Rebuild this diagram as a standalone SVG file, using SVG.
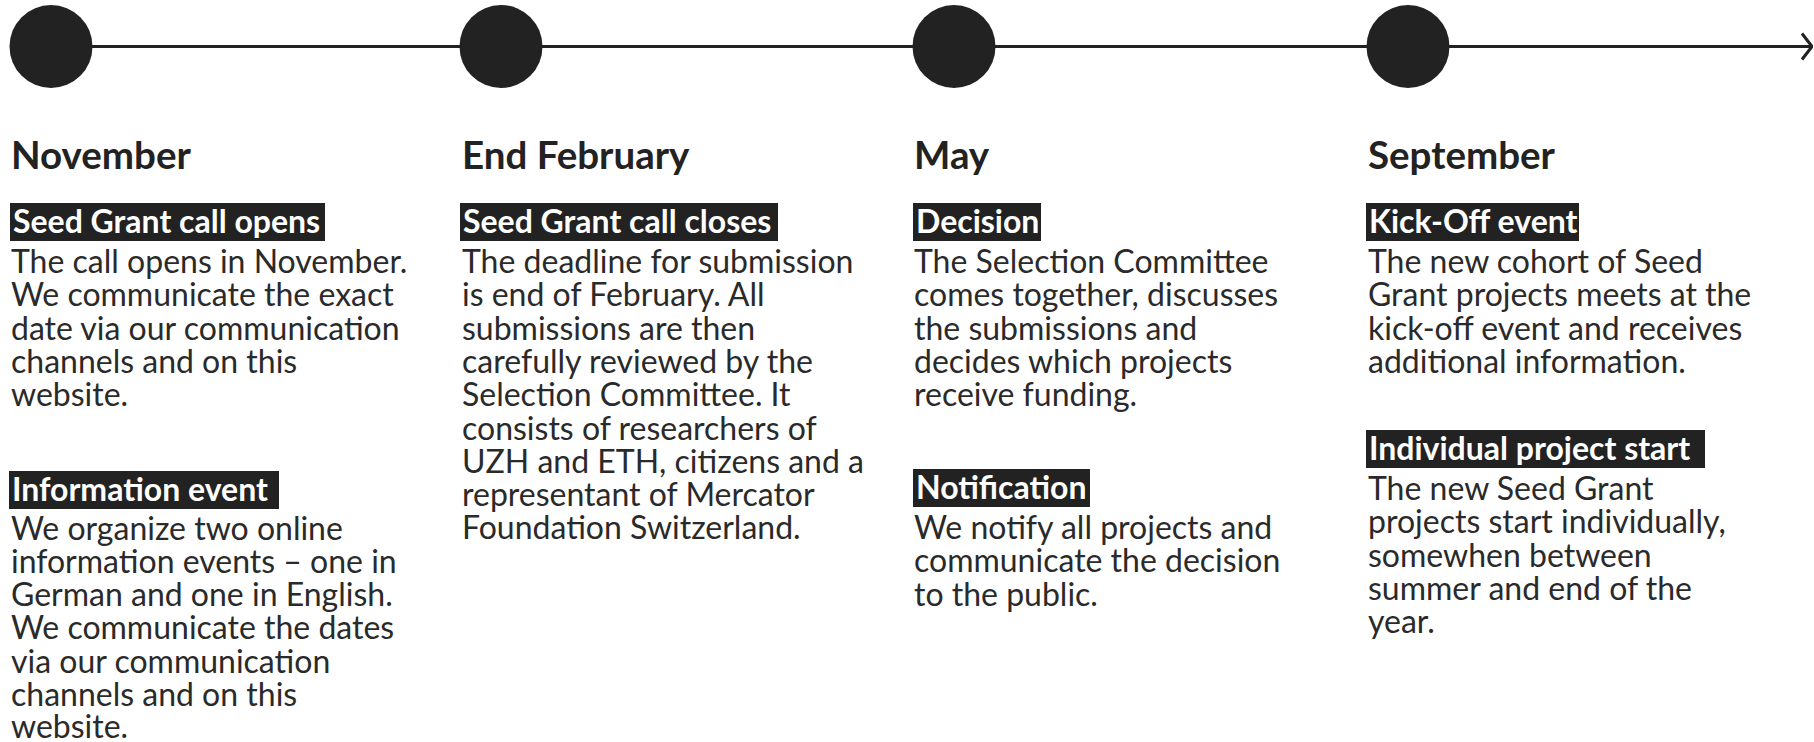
<svg xmlns="http://www.w3.org/2000/svg" width="1814" height="742" viewBox="0 0 1814 742">
<style>
.dot{fill:#222222}
.line{stroke:#222222;stroke-width:3;fill:none}
.month{font-family:Lato,"Liberation Sans",sans-serif;font-weight:700;font-size:38.5px;fill:#222222}
.tag{fill:#222222}
.tagt{font-family:Lato,"Liberation Sans",sans-serif;font-weight:700;font-size:32px;fill:#ffffff}
.body{font-family:Lato,"Liberation Sans",sans-serif;font-size:32px;fill:#2a2a2a}
</style>
<defs>
<marker id="arr" viewBox="0 0 12 30" refX="11" refY="15" markerWidth="12" markerHeight="30" markerUnits="userSpaceOnUse" orient="auto">
<path d="M1,2 L11,15 L1,28" fill="none" stroke="#222222" stroke-width="3"/>
</marker>
</defs>
<g id="connectors">
<line class="line" x1="51" y1="46.5" x2="1812" y2="46.5" marker-end="url(#arr)"/>
</g>
<g id="november">
<circle class="dot" cx="51" cy="46.5" r="41.5"/>
<text class="month" x="11" y="169">November</text>
<rect class="tag" x="10" y="203" width="315" height="38"/>
<text class="tagt" x="13" y="233">Seed Grant call opens</text>
<text class="body"><tspan x="11" y="273">The call opens in November.</tspan><tspan x="11" y="306.3">We communicate the exact</tspan><tspan x="11" y="339.6">date via our communication</tspan><tspan x="11" y="372.9">channels and on this</tspan><tspan x="11" y="406.2">website.</tspan></text>
<rect class="tag" x="9" y="471" width="270" height="38"/>
<text class="tagt" x="12" y="501">Information event</text>
<text class="body"><tspan x="11" y="539.5">We organize two online</tspan><tspan x="11" y="572.8">information events – one in</tspan><tspan x="11" y="606.1">German and one in English.</tspan><tspan x="11" y="639.4">We communicate the dates</tspan><tspan x="11" y="672.7">via our communication</tspan><tspan x="11" y="706">channels and on this</tspan><tspan x="11" y="737.5">website.</tspan></text>
</g>
<g id="february">
<circle class="dot" cx="501" cy="46.5" r="41.5"/>
<text class="month" x="462" y="169">End February</text>
<rect class="tag" x="460" y="203" width="318" height="38"/>
<text class="tagt" x="463" y="233">Seed Grant call closes</text>
<text class="body"><tspan x="462" y="273">The deadline for submission</tspan><tspan x="462" y="306.3">is end of February. All</tspan><tspan x="462" y="339.6">submissions are then</tspan><tspan x="462" y="372.9">carefully reviewed by the</tspan><tspan x="462" y="406.2">Selection Committee. It</tspan><tspan x="462" y="439.5">consists of researchers of</tspan><tspan x="462" y="472.8">UZH and ETH, citizens and a</tspan><tspan x="462" y="506.1">representant of Mercator</tspan><tspan x="462" y="539.4">Foundation Switzerland.</tspan></text>
</g>
<g id="may">
<circle class="dot" cx="954" cy="46.5" r="41.5"/>
<text class="month" x="914" y="169">May</text>
<rect class="tag" x="913" y="203" width="128" height="38"/>
<text class="tagt" x="916" y="233">Decision</text>
<text class="body"><tspan x="914" y="273">The Selection Committee</tspan><tspan x="914" y="306.3">comes together, discusses</tspan><tspan x="914" y="339.6">the submissions and</tspan><tspan x="914" y="372.9">decides which projects</tspan><tspan x="914" y="406.2">receive funding.</tspan></text>
<rect class="tag" x="913" y="469" width="177" height="38"/>
<text class="tagt" x="916" y="499">Notification</text>
<text class="body"><tspan x="914" y="539">We notify all projects and</tspan><tspan x="914" y="572.3">communicate the decision</tspan><tspan x="914" y="605.6">to the public.</tspan></text>
</g>
<g id="september">
<circle class="dot" cx="1408" cy="46.5" r="41.5"/>
<text class="month" x="1368" y="169">September</text>
<rect class="tag" x="1366" y="203" width="213" height="38"/>
<text class="tagt" x="1369" y="233">Kick-Off event</text>
<text class="body"><tspan x="1368" y="273">The new cohort of Seed</tspan><tspan x="1368" y="306.3">Grant projects meets at the</tspan><tspan x="1368" y="339.6">kick-off event and receives</tspan><tspan x="1368" y="372.9">additional information.</tspan></text>
<rect class="tag" x="1366" y="430" width="339" height="38"/>
<text class="tagt" x="1369" y="460">Individual project start</text>
<text class="body"><tspan x="1368" y="500">The new Seed Grant</tspan><tspan x="1368" y="533.3">projects start individually,</tspan><tspan x="1368" y="566.6">somewhen between</tspan><tspan x="1368" y="599.9">summer and end of the</tspan><tspan x="1368" y="633.2">year.</tspan></text>
</g>
</svg>
